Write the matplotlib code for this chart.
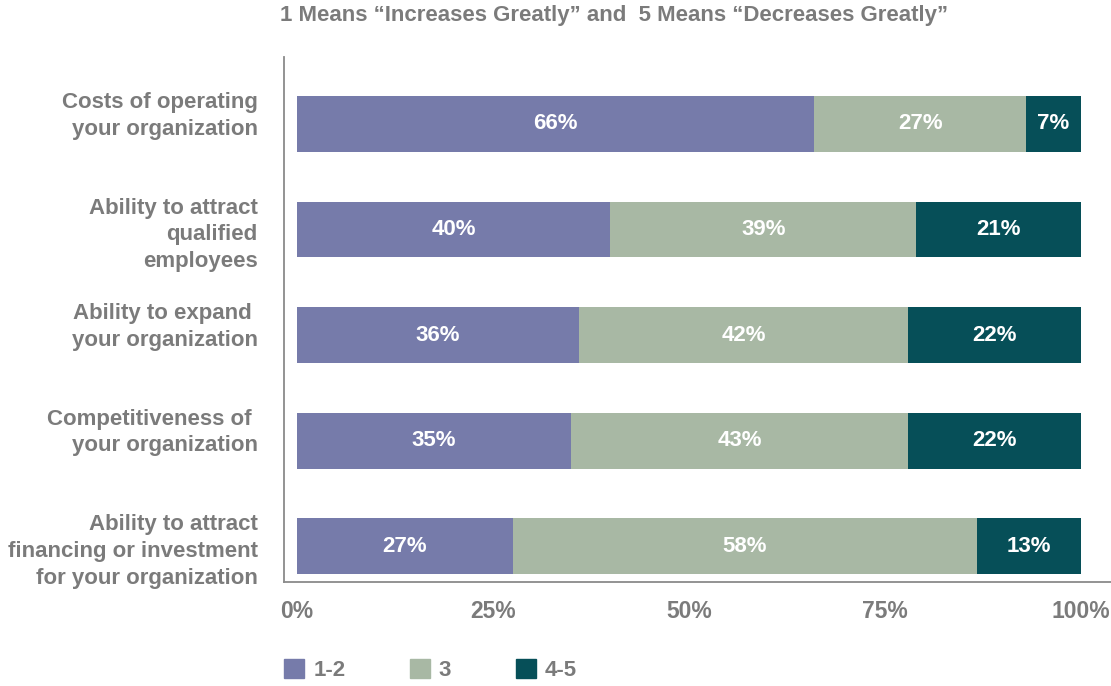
import matplotlib
matplotlib.use('Agg')
import matplotlib.pyplot as plt
from matplotlib.patches import Patch
import numpy as np

# data (two-line labels sit a line high in the original, hence the trailing newline)
categories = ["Costs of operating\nyour organization\n",
              "Ability to attract\nqualified\nemployees",
              "Ability to expand \nyour organization\n",
              "Competitiveness of \nyour organization\n",
              "Ability to attract\nfinancing or investment\nfor your organization"]
low = [66, 40, 36, 35, 27]     # 1-2
mid = [27, 39, 42, 43, 58]     # 3
high = [7, 21, 22, 22, 13]     # 4-5
series_names = ["1-2", "3", "4-5"]
ticks = [0, 25, 50, 75, 100]

colors = ['#767BAA', '#A8B8A4', '#064F58']
grey = '#7B7B7B'
plt.rcParams['font.family'] = ['Liberation Sans', 'DejaVu Sans']
plt.rcParams['font.weight'] = 'bold'

vals = np.array([low, mid, high], dtype=float)
tot = vals.sum(axis=0)
share = vals / tot * 100   # bars are drawn as share of 100%

fig = plt.figure(figsize=(11.11, 6.86), dpi=100)
ax = fig.add_axes([0.2556, 0.1516, 0.744, 0.7654])

y = np.arange(len(categories))
left = np.zeros(len(categories))
for i in range(3):
    ax.barh(y, share[i], left=left, height=0.53, color=colors[i], label=series_names[i])
    for j in range(len(categories)):
        ax.text(left[j] + share[i][j] / 2, y[j], '%d%%' % vals[i][j], ha='center', va='center',
                color='white', fontsize=16, fontweight='bold')
    left += share[i]

ax.set_xlim(-1.66, 103.8)
ax.set_ylim(4.34, -0.635)
ax.set_xticks(ticks)
ax.set_xticklabels(['%d%%' % t for t in ticks], fontsize=16.5, color=grey, fontweight='bold')
ax.set_yticks(y)
ax.set_yticklabels(categories, fontsize=16, color=grey, fontweight='bold', linespacing=1.35)
ax.tick_params(axis='both', length=0)
ax.tick_params(axis='x', pad=13)
ax.tick_params(axis='y', pad=19)
for s in ['top', 'right']:
    ax.spines[s].set_visible(False)
for s in ['left', 'bottom']:
    ax.spines[s].set_color('#8A8A8A')
    ax.spines[s].set_linewidth(1.3)

fig.text(0.553, 0.978, '1 Means \u201cIncreases Greatly\u201d and  5 Means \u201cDecreases Greatly\u201d',
         ha='center', va='center', fontsize=16, color=grey, fontweight='bold')

handles = [Patch(color=c) for c in colors]
fig.legend(handles, series_names, loc='lower left', bbox_to_anchor=(0.238, -0.022), ncol=3,
           frameon=False, labelcolor=grey, handlelength=0.9, handleheight=0.9,
           handletextpad=0.4, columnspacing=2.9, prop={'weight': 'bold', 'size': 16})

plt.savefig('out.png', dpi=100)
